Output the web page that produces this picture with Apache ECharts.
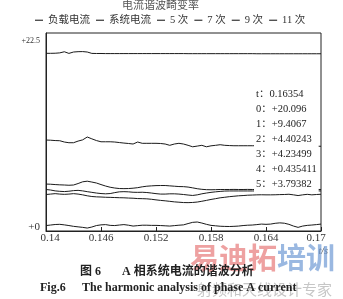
<!DOCTYPE html>
<html><head><meta charset="utf-8">
<script src="https://cdn.jsdelivr.net/npm/echarts@6/dist/echarts.min.js"></script>
<style>html,body{margin:0;padding:0;background:#fff}#c{width:343px;height:299px}</style>
</head><body><div id="c"></div>
<script>
const FONT = "'Liberation Serif','Noto Sans CJK SC',serif";
const chartTitle = '电流谐波畸变率';
const seriesNames = ['负载电流', '系统电流', '5 次', '7 次', '9 次', '11 次'];
const xTicks = [0.14, 0.146, 0.152, 0.158, 0.164, 0.17];
const yTicks = [0, 22.5];
const times = [0.14,0.1405,0.141,0.1415,0.142,0.1425,0.143,0.1435,0.144,0.1445,0.145,0.1455,0.146,0.1465,0.147,0.1475,0.148,0.1485,0.149,0.1495,0.15,0.1505,0.151,0.1515,0.152,0.1525,0.153,0.1535,0.154,0.1545,0.155,0.1555,0.156,0.1565,0.157,0.1575,0.158,0.1585,0.159,0.1595,0.16,0.1605,0.161,0.1615,0.162,0.1625,0.163,0.1635,0.164,0.1645,0.165,0.1655,0.166,0.1665,0.167,0.1675,0.168,0.1685,0.169,0.1695,0.17];
const loadCurrent = [20.15,20.15,20.16,20.2,20.33,20.14,20.3,20.34,20.35,20.3,20.14,20.13,20.13,20.12,20.12,20.12,20.12,20.12,20.12,20.12,20.12,20.12,20.12,20.12,20.12,20.12,20.12,20.12,20.12,20.12,20.12,20.11,20.11,20.11,20.11,20.11,20.11,20.11,20.11,20.11,20.11,20.11,20.11,20.11,20.11,20.11,20.10,20.10,20.10,20.10,20.10,20.10,20.10,20.10,20.10,20.10,20.10,20.10,20.10,20.10,20.10];
const systemCurrent = [10.12,10.10,10.06,10.04,9.89,9.81,9.81,10.0,10.14,10.47,10.26,10.06,9.92,9.92,9.92,9.89,9.83,9.77,9.72,9.66,9.89,9.74,9.74,9.74,9.74,9.72,9.66,9.51,9.66,9.74,9.66,9.51,9.34,9.42,9.51,9.34,9.45,9.51,9.58,9.51,9.48,9.46,9.46,9.46,9.46,9.46,9.46,9.41,9.40,9.42,9.40,9.38,9.40,9.41,9.39,9.40,9.42,9.40,9.39,9.41,9.40];
const h5 = [5.03,5.01,4.97,4.94,4.92,4.89,4.92,5.09,5.29,5.36,5.26,5.15,4.97,4.80,4.66,4.57,4.51,4.50,4.51,4.55,4.61,4.71,4.78,4.82,4.85,4.86,4.86,4.82,4.78,4.74,4.73,4.68,4.59,4.49,4.42,4.38,4.37,4.38,4.40,4.40,4.40,4.41,4.40,4.40,4.41,4.40,4.40,4.40,4.39,4.41,4.42,4.40,4.38,4.39,4.41,4.42,4.40,4.39,4.40,4.41,4.40];
const h7 = [4.40,4.34,4.24,4.19,4.16,4.20,4.27,4.30,4.24,4.15,4.07,3.99,3.93,3.90,3.93,4.04,4.13,4.15,4.13,4.08,4.07,4.08,4.05,3.99,3.92,3.87,3.87,3.90,3.90,3.87,3.82,3.76,3.71,3.78,3.90,3.99,4.07,4.13,4.18,4.22,4.23,4.23,4.23,4.23,4.23,4.23,4.23,4.23,4.22,4.24,4.25,4.23,4.21,4.22,4.24,4.25,4.23,4.22,4.23,4.24,4.23];
const h9 = [0.23,0.29,0.35,0.37,0.31,0.23,0.14,0.08,0.02,-0.06,0.06,0.23,0.31,0.34,0.25,0.23,0.29,0.34,0.27,0.17,0.22,0.27,0.27,0.25,0.25,0.23,0.20,0.17,0.22,0.27,0.31,0.46,0.60,0.64,0.52,0.37,0.25,0.20,0.15,0.13,0.12,0.14,0.17,0.23,0.27,0.29,0.34,0.40,0.37,0.40,0.49,0.54,0.50,0.37,0.17,0.02,0.17,0.25,0.29,0.34,0.40];
const h11 = [3.82,3.87,3.92,3.87,3.84,3.87,3.92,3.87,3.78,3.67,3.59,3.55,3.53,3.50,3.49,3.47,3.45,3.44,3.41,3.39,3.35,3.34,3.32,3.27,3.20,3.14,3.09,3.03,2.97,2.93,2.89,2.88,2.90,2.95,3.04,3.14,3.25,3.34,3.44,3.50,3.57,3.62,3.67,3.70,3.74,3.76,3.78,3.79,3.78,3.78,3.79,3.81,3.82,3.85,3.78,3.70,3.78,3.84,3.78,3.82,3.85];
const readLabels = ['t', '0', '1', '2', '3', '4', '5'];
const readValues = ['0.16354', '+20.096', '+9.4067', '+4.40243', '+4.23499', '+0.435411', '+3.79382'];
const captionCn = ['图 6', 'A 相系统电流的谐波分析'];
const captionEn = ['Fig.6', 'The harmonic analysis of phase A current'];
const watermark = ['易迪拓', '培训', '射频和天线设计专家'];

const allSeries = [loadCurrent, systemCurrent, h5, h7, h9, h11];
const chart = echarts.init(document.getElementById('c'), null, {renderer: 'canvas'});
chart.setOption({
  animation: false,
  backgroundColor: '#fff',
  title: [
    {text: chartTitle, left: 122, top: 1, padding: 0,
     textStyle: {fontSize: 11, fontWeight: 'normal', color: '#555', fontFamily: FONT}},
    {text: readLabels.map((l, i) => l + '：' + readValues[i]).join('\n'),
     left: 254, top: 87, padding: [0, 2, 0, 2], backgroundColor: '#fff', z: 10,
     textStyle: {fontSize: 10.5, fontWeight: 'normal', color: '#222', fontFamily: FONT, lineHeight: 15}}
  ],
  legend: {
    data: seriesNames, left: 35, top: 15, itemGap: 6, itemWidth: 8, itemHeight: 1.2,
    icon: 'rect', padding: 0,
    textStyle: {fontSize: 10.5, color: '#333', fontFamily: FONT}
  },
  grid: {left: 46, right: 22, top: 33, bottom: 68, show: true, borderColor: '#222', borderWidth: 1},
  xAxis: {
    type: 'value', min: 0.14, max: 0.17,
    name: 't/s', nameLocation: 'end', nameGap: 7,
    nameTextStyle: {fontSize: 10, fontStyle: 'italic', color: '#333', fontFamily: FONT,
                    align: 'right', verticalAlign: 'top', padding: [15, 0, 0, 0]},
    axisLine: {onZero: false, lineStyle: {color: '#222', width: 1}},
    axisTick: {show: true, inside: true, length: 4, customValues: xTicks, lineStyle: {color: '#222'}},
    splitLine: {show: false},
    axisLabel: {
      customValues: xTicks, margin: 2, color: '#333', fontSize: 11, fontFamily: FONT,
      formatter: v => {
        const s = String(+v.toFixed(3));
        if (v <= 0.14001) return '{l|' + s + '}';
        if (v >= 0.16999) return '{r|' + s + '}';
        return s;
      },
      rich: {
        l: {fontSize: 11, fontFamily: FONT, color: '#333', padding: [0, 0, 0, 8]},
        r: {fontSize: 11, fontFamily: FONT, color: '#333', padding: [0, 10, 0, 0]}
      }
    }
  },
  yAxis: {
    type: 'value', min: -0.4, max: 22.5,
    axisLine: {show: true, onZero: false, lineStyle: {color: '#222', width: 1}},
    axisTick: {show: false},
    splitLine: {show: false},
    axisLabel: {
      customValues: yTicks, margin: 6, color: '#333', fontFamily: FONT,
      formatter: v => v === 0 ? '{z|+0}' : '{m|+' + v + '}',
      rich: {
        z: {fontSize: 11, fontFamily: FONT, color: '#333'},
        m: {fontSize: 8, fontFamily: FONT, color: '#333', padding: [16, 0, 0, 0]}
      }
    }
  },
  series: allSeries.map((arr, k) => ({
    name: seriesNames[k], type: 'line', showSymbol: false, symbol: 'none',
    lineStyle: {color: '#1a1a1a', width: 1}, itemStyle: {color: '#333'},
    z: 2, data: times.map((t, i) => [t, arr[i]])
  })),
  graphic: [
    {type: 'text', z: 1, style: {text: watermark[0], x: 190, y: 258, verticalAlign: 'middle',
      font: 'bold 29px "Noto Sans CJK SC"', fill: 'rgba(232,130,130,0.75)'}},
    {type: 'text', z: 1, style: {text: watermark[1], x: 277, y: 258, verticalAlign: 'middle',
      font: 'bold 29px "Noto Sans CJK SC"', fill: 'rgba(120,160,215,0.75)'}},
    {type: 'text', z: 1, style: {text: watermark[2], x: 197, y: 289, verticalAlign: 'middle',
      font: '15px "Noto Sans CJK SC"', fill: 'rgba(160,160,160,0.6)'}},
    {type: 'text', z: 5, style: {text: captionCn[0], x: 80, y: 272, verticalAlign: 'middle',
      font: 'bold 12px ' + FONT, fill: '#222'}},
    {type: 'text', z: 5, style: {text: captionCn[1], x: 122, y: 272, verticalAlign: 'middle',
      font: 'bold 12px ' + FONT, fill: '#222'}},
    {type: 'text', z: 5, style: {text: captionEn[0], x: 40, y: 288, verticalAlign: 'middle',
      font: 'bold 12px ' + FONT, fill: '#222'}},
    {type: 'text', z: 5, style: {text: captionEn[1], x: 82, y: 288, verticalAlign: 'middle',
      font: 'bold 12px ' + FONT, fill: '#222'}}
  ]
});
</script></body></html>
